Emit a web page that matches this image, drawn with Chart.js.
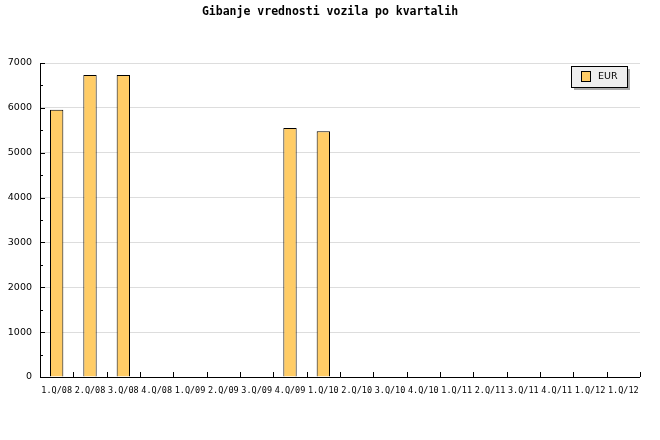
<!DOCTYPE html>
<html><head><meta charset="utf-8">
<script src="https://cdn.jsdelivr.net/npm/chart.js@4"></script>
<style>html,body{margin:0;padding:0;background:#fff}#wrap{width:660px;height:440px}</style>
</head><body><div id="wrap"><canvas id="c" width="660" height="440"></canvas></div>
<script>
const chartTitle = "Gibanje vrednosti vozila po kvartalih";
const categories = ["1.Q/08","2.Q/08","3.Q/08","4.Q/08","1.Q/09","2.Q/09","3.Q/09","4.Q/09","1.Q/10","2.Q/10","3.Q/10","4.Q/10","1.Q/11","2.Q/11","3.Q/11","4.Q/11","1.Q/12","1.Q/12"];
const seriesName = "EUR";
const eurValues = [5960,6730,6730,null,null,null,null,5550,5480,null,null,null,null,null,null,null,null,null];
const yTicks = [0,1000,2000,3000,4000,5000,6000,7000];

const decor = {
  id: 'decor',
  afterDraw(chart) {
    const ctx = chart.ctx, a = chart.chartArea;
    const x = chart.scales.x, y = chart.scales.y;
    ctx.save();
    ctx.fillStyle = '#000';
    ctx.font = 'bold 11.5px "DejaVu Sans Mono"';
    ctx.textAlign = 'center'; ctx.textBaseline = 'middle';
    ctx.fillText(chartTitle, 330, 12);
    ctx.strokeStyle = '#000'; ctx.lineWidth = 1;
    ctx.beginPath();
    ctx.moveTo(Math.round(a.left)+0.5, a.top); ctx.lineTo(Math.round(a.left)+0.5, Math.round(a.bottom)+0.5);
    ctx.lineTo(a.right, Math.round(a.bottom)+0.5);
    ctx.stroke();
    const n = categories.length;
    const w = (a.right - a.left) / n;
    ctx.beginPath();
    for (let i = 1; i <= n; i++) {
      const px = Math.round(x.getPixelForValue(i - 1) + w / 2) + 0.5;
      ctx.moveTo(px, Math.round(a.bottom)); ctx.lineTo(px, Math.round(a.bottom) - 5);
    }
    for (let v = 0; v <= 7000; v += 500) {
      const py = Math.round(y.getPixelForValue(v)) + 0.5;
      const len = v % 1000 === 0 ? 5 : 3;
      ctx.moveTo(Math.round(a.left), py); ctx.lineTo(Math.round(a.left) + len, py);
    }
    ctx.stroke();
    const lx = 571, ly = 66, lw = 56, lh = 21;
    ctx.fillStyle = '#aaaaaa';
    ctx.fillRect(lx + 3, ly + 3, lw, lh);
    ctx.fillStyle = '#eeeeee';
    ctx.fillRect(lx, ly, lw, lh);
    ctx.strokeStyle = '#000';
    ctx.strokeRect(lx + 0.5, ly + 0.5, lw, lh);
    ctx.fillStyle = '#ffcc66';
    ctx.fillRect(581, 71, 9, 10);
    ctx.strokeRect(581.5, 71.5, 9, 10);
    ctx.fillStyle = '#000';
    ctx.font = '9.5px "DejaVu Sans"';
    ctx.textAlign = 'left'; ctx.textBaseline = 'middle';
    ctx.fillText(chart.data.datasets[0].label, 598, 77);
    ctx.restore();
  }
};

new Chart(document.getElementById('c'), {
  type: 'bar',
  data: {
    labels: categories,
    datasets: [{
      label: seriesName,
      data: eurValues,
      backgroundColor: '#ffcc66',
      borderColor: '#000',
      borderWidth: 1,
      borderSkipped: 'bottom',
      barPercentage: 0.4,
      categoryPercentage: 1.0
    }]
  },
  options: {
    responsive: false,
    animation: false,
    devicePixelRatio: 1,
    layout: { padding: { top: 63, right: 20, left: 0, bottom: 0 } },
    plugins: { legend: { display: false }, title: { display: false }, tooltip: { enabled: false } },
    scales: {
      x: {
        offset: true,
        grid: { display: false, drawTicks: false },
        border: { display: false },
        afterFit(s) { s.height = 63; },
        ticks: { color: '#000', font: { family: 'DejaVu Sans Mono', size: 8.5 }, padding: 9, maxRotation: 0, minRotation: 0, autoSkip: false }
      },
      y: {
        min: 0, max: 7000,
        afterFit(s) { s.width = 40; },
        afterBuildTicks(s) { s.ticks = yTicks.map(v => ({ value: v })); },
        border: { display: false },
        grid: { color: '#dddddd', drawTicks: false },
        ticks: { color: '#000', font: { family: 'DejaVu Sans', size: 9.5 }, padding: 8, callback: v => String(v) }
      }
    }
  },
  plugins: [decor]
});
</script>
</body></html>
